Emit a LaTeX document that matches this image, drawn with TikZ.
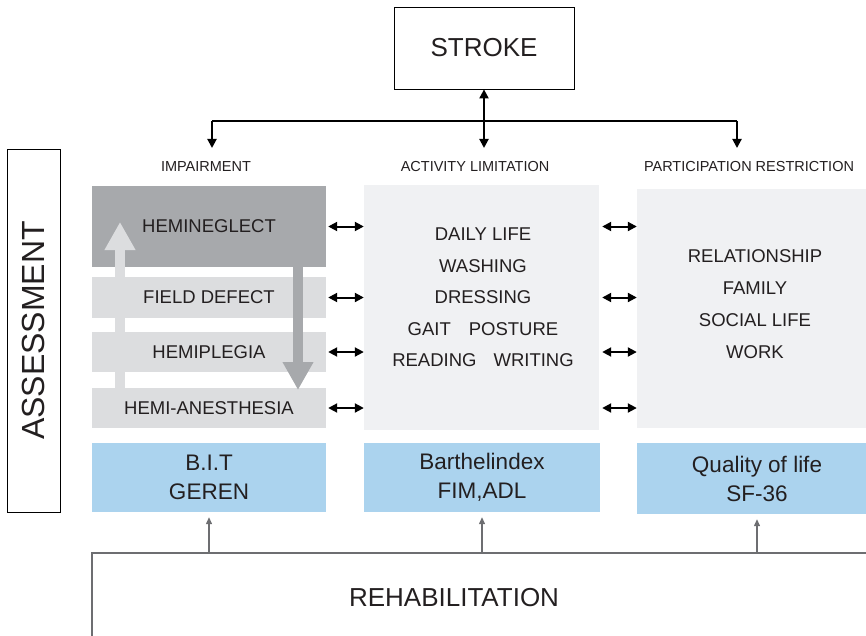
\documentclass[tikz,border=0pt]{standalone}
\usepackage{fontspec}
\setmainfont{Liberation Sans}
\usetikzlibrary{arrows.meta}
\usetikzlibrary{positioning, calc}

\definecolor{darkbox}{HTML}{A7A9AC}
\definecolor{lightbox}{HTML}{DCDDDF}
\definecolor{palebox}{HTML}{F0F1F3}
\definecolor{bluebox}{HTML}{ABD3EE}
\definecolor{textgray}{HTML}{231F20}
\definecolor{linegray}{HTML}{6D6E71}

\begin{document}
\begin{tikzpicture}[
    x=1pt, y=-1pt,
    every node/.style={text=textgray, inner sep=0pt},
    frame/.style={draw=black, line width=0.8pt},
    head/.style={font=\fontsize{14.5}{16}\selectfont},
    imp/.style={fill=lightbox, minimum width=234pt, font=\fontsize{18.5}{22}\selectfont},
    pale/.style={fill=palebox},
    list/.style={align=center, font=\fontsize{18.5}{31.5}\selectfont},
    score/.style={fill=bluebox, minimum height=69pt, align=center, font=\fontsize{22.5}{29}\selectfont},
    bar/.style={black, line width=2pt},
    tip/.style={-{Triangle[length=9pt,width=9pt]}},
    dbl/.style={black, line width=2pt, {Triangle[length=9pt,width=9pt]}-{Triangle[length=9pt,width=9pt]}},
    big up/.style={line width=10pt, -{Triangle[length=28pt,width=29pt]}},
    feed/.style={linegray, line width=1.3pt, -{Triangle[length=7pt,width=6pt]}}
]
    \useasboundingbox (0,0) rectangle (866,636);

    % top of the scheme
    \node[frame, minimum width=180pt, minimum height=82pt, font=\fontsize{26}{30}\selectfont] (stroke) at (484,48) {STROKE};
    \node[frame, rotate=90, minimum width=363pt, minimum height=53pt, font=\fontsize{32}{36}\selectfont] (assess) at (33.5,330.5) {ASSESSMENT};

    \coordinate (hub) at (484,121);
    \coordinate (tl) at (212,148);
    \coordinate (tm) at (484,148);
    \coordinate (tr) at (737,148);
    \draw[bar] (tl |- hub) -- (tr |- hub);
    \draw[bar, tip] (tl |- hub) -- (tl);
    \draw[bar, tip] (tr |- hub) -- (tr);
    \draw[bar, {Triangle[length=9pt,width=9pt]}-{Triangle[length=9pt,width=9pt]}] (stroke.south) -- (stroke.south |- tm);

    \node[head] (limp) at (206,167) {IMPAIRMENT};
    \node[head] (lact) at (475,167) {ACTIVITY LIMITATION};
    \node[head] (lpar) at (749,167) {PARTICIPATION RESTRICTION};

    % impairment column
    \node[imp, fill=darkbox, minimum height=81pt] (neglect) at (209,226.5) {HEMINEGLECT};
    \foreach \n/\y/\h/\txt in {field/297.5/41/FIELD DEFECT, plegia/352/40/HEMIPLEGIA, anest/408/40/HEMI-ANESTHESIA} {
        \node[imp, minimum height=\h pt] (\n) at (209,\y) {\txt};
    }
    \draw[big up, lightbox] (120,420) -- (120,222);
    \draw[big up, darkbox] (298,267) -- (298,390);

    % activity and participation
    \node[pale, minimum width=235pt, minimum height=245pt] (act) at (481.5,307.5) {};
    \node[list] (actlist) at (483,297.5) {DAILY LIFE\\WASHING\\DRESSING\\GAIT\hspace{18pt}POSTURE\\READING\hspace{17pt}WRITING};
    \node[pale, minimum width=236pt, minimum height=239pt] (part) at (755,308.5) {};
    \node[list, font=\fontsize{18.5}{32}\selectfont] (partlist) at (755,304) {RELATIONSHIP\\FAMILY\\SOCIAL LIFE\\WORK};

    \foreach \n in {neglect, field, plegia, anest} {
        \draw[dbl] ($(\n.east)+(2,0)$) -- (\n.east -| act.west);
        \draw[dbl] ($(\n.east -| act.east)+(3,0)$) -- (\n.east -| part.west);
    }

    % scores
    \node[score, minimum width=234pt] (bit) at (209,477.5) {B.I.T\\GEREN};
    \node[score, minimum width=236pt] (barthel) at (482,477.5) {Barthelindex\\FIM,ADL};
    \node[score, minimum width=240pt, minimum height=71pt] (qol) at (757,478.5) {Quality of life\\SF-36};

    % rehabilitation
    \coordinate (rehabtop) at (92,553);
    \draw[linegray, line width=1.5pt] (92,640) -- (rehabtop) -- (870,553);
    \node[font=\fontsize{26}{30}\selectfont] (rehab) at (454,598) {REHABILITATION};
    \foreach \n in {bit, barthel, qol}
        \draw[feed] (\n.south |- rehabtop) -- ([yshift=-5pt]\n.south);

\end{tikzpicture}
\end{document}
